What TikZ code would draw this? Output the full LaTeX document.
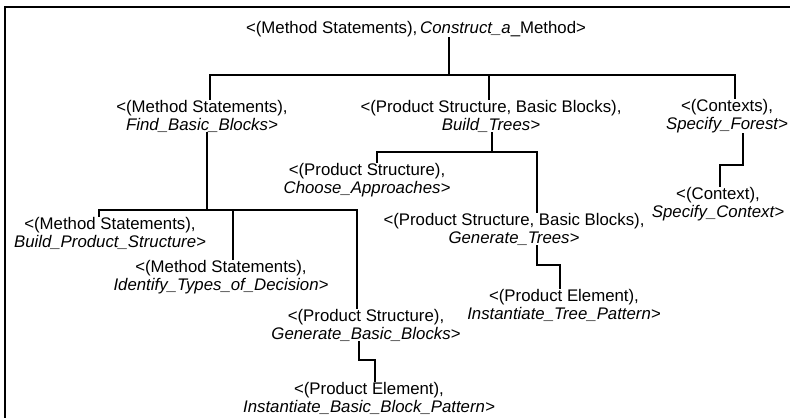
\documentclass[tikz,border=0pt]{standalone}
\usepackage{fontspec}
\setmainfont{Liberation Sans}
\begin{document}
\begin{tikzpicture}[x=1pt,y=-1pt,
  lab/.style={align=center,inner sep=0pt,font=\fontsize{16.8}{18}\selectfont},
  link/.style={line width=1.7pt},
  frame/.style={line width=1.4pt}]
\useasboundingbox (0,0) rectangle (790,418);
\draw[frame] (790,7) -- (5,7) -- (5,418);

\node[lab] (root) at (416,29) {<(Method Statements),\,\textit{Construct\_a}\_Method>};
\node[lab] (fbb) at (202,116) {<(Method Statements),\\\textit{Find\_Basic\_Blocks>}};
\node[lab] (bt) at (491,116) {<(Product Structure, Basic Blocks),\\\textit{Build\_Trees>}};
\node[lab] (sf) at (727,116) {<(Contexts),\\\textit{Specify\_Forest>}};
\node[lab] (bps) at (110,233) {<(Method Statements),\\\textit{Build\_Product\_Structure>}};
\node[lab] (itd) at (221,277) {<(Method Statements),\\\textit{Identify\_Types\_of\_Decision>}};
\node[lab] (gbb) at (366,325) {<(Product Structure),\\\textit{Generate\_Basic\_Blocks>}};
\node[lab] (ibbp) at (369,398) {<(Product Element),\\\textit{Instantiate\_Basic\_Block\_Pattern>}};
\node[lab] (ca) at (367,180) {<(Product Structure),\\\textit{Choose\_Approaches>}};
\node[lab] (gt) at (514,229) {<(Product Structure, Basic Blocks),\\\textit{Generate\_Trees>}};
\node[lab] (itp) at (564,305) {<(Product Element),\\\textit{Instantiate\_Tree\_Pattern>}};
\node[lab] (sc) at (718,204) {<(Context),\\\textit{Specify\_Context>}};

% level 1
\coordinate (j0) at (449,75);
\coordinate (b0l) at (210,75);
\coordinate (b0m) at (489,75);
\coordinate (b0r) at (735,75);
\draw[link] (j0 |- root.south) -- (j0);
\draw[link] (b0l |- fbb.north) -- (b0l) -- (b0r) -- (b0r |- sf.north);
\draw[link] (b0m) -- (b0m |- bt.north);

% under Find_Basic_Blocks
\coordinate (j1) at (207,210);
\coordinate (b1l) at (99,210);
\coordinate (b1m) at (233,210);
\coordinate (b1r) at (357,210);
\draw[link] (j1 |- fbb.south) -- (j1);
\draw[link] (b1l |- bps.north) -- (b1l) -- (b1r) -- (b1r |- gbb.north);
\draw[link] (b1m) -- (b1m |- itd.north);

\coordinate (e1a) at (359,360);
\coordinate (e1b) at (375,360);
\draw[link] (e1a |- gbb.south) -- (e1a) -- (e1b) -- (e1b |- ibbp.north);

% under Build_Trees
\coordinate (j2) at (492,152);
\coordinate (b2l) at (377,152);
\coordinate (b2r) at (537,152);
\draw[link] (j2 |- bt.south) -- (j2);
\draw[link] (b2l |- ca.north) -- (b2l) -- (b2r) -- (b2r |- gt.north);

\coordinate (e2a) at (537,265);
\coordinate (e2b) at (560,265);
\draw[link] (e2a |- gt.south) -- (e2a) -- (e2b) -- (e2b |- itp.north);

% under Specify_Forest
\coordinate (e3a) at (743,165);
\coordinate (e3b) at (720,165);
\draw[link] (e3a |- sf.south) -- (e3a) -- (e3b) -- (e3b |- sc.north);
\end{tikzpicture}
\end{document}
